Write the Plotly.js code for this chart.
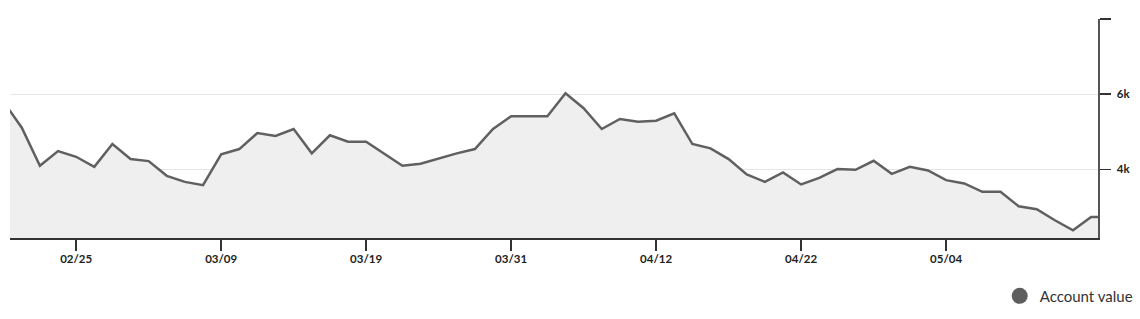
<!DOCTYPE html>
<html>
<head>
<meta charset="utf-8">
<script src="https://cdn.plot.ly/plotly-3.0.1.min.js"></script>
<style>html,body{margin:0;padding:0;background:#fff;}#chart{width:1140px;height:319px;}</style>
</head>
<body>
<div id="chart"></div>
<script>
var dates = ["02/20","02/21","02/22","02/23","02/25","02/26","02/27","02/28","03/01","03/03",
  "03/05","03/07","03/09","03/10","03/11","03/12","03/13","03/14","03/16","03/17",
  "03/19","03/20","03/22","03/23","03/24","03/26","03/28","03/29","03/31","04/01",
  "04/02","04/04","04/05","04/07","04/09","04/10","04/12","04/13","04/14","04/15",
  "04/17","04/18","04/19","04/21","04/22","04/23","04/25","04/26","04/28","04/29",
  "04/30","05/02","05/04","05/05","05/06","05/07","05/09","05/10","05/11","05/12",
  "05/14","05/15"];
var accountValue = [5800,5109,4096,4488,4336,4069,4675,4275,4221,3829,
  3669,3581,4400,4541,4968,4888,5075,4427,4907,4736,
  4736,4416,4096,4149,4293,4427,4541,5075,5413,5413,
  5413,6027,5627,5075,5341,5269,5296,5493,4675,4560,
  4275,3867,3669,3920,3600,3776,4008,3989,4229,3883,
  4069,3973,3715,3627,3403,3403,3021,2941,2648,2381,
  2736,2736];
var tickDates = ["02/25","03/09","03/19","03/31","04/12","04/22","05/04"];
var yTickVals = [4000,6000,8000];
var yTickText = ["4k","6k",""];
var seriesName = "Account value";

var traces = [
  {
    type: "scatter", mode: "lines", x: dates, y: accountValue,
    line: {color: "#606060", width: 2.5},
    fill: "tozeroy", fillcolor: "#efefef",
    showlegend: false, hoverinfo: "x+y"
  },
  {
    type: "scatter", mode: "markers", x: [dates[0]], y: [null],
    name: seriesName,
    marker: {color: "#5e5e5e", size: 16, symbol: "circle"},
    showlegend: true
  }
];

var layout = {
  width: 1140, height: 319,
  margin: {l: 10, r: 42, t: 19, b: 81, pad: 0},
  paper_bgcolor: "#fff", plot_bgcolor: "#fff",
  font: {family: "Lato, sans-serif", color: "#222"},
  xaxis: {
    type: "category", range: [0.35, 60.38],
    tickmode: "array", tickvals: tickDates, ticktext: tickDates,
    showgrid: false, zeroline: false,
    showline: true, linecolor: "#333", linewidth: 1.5,
    ticks: "outside", ticklen: 11, tickwidth: 1.5, tickcolor: "#333",
    ticklabelstandoff: -1,
    tickfont: {family: "Lato, sans-serif", size: 11.5, color: "#222", weight: "bold"}
  },
  yaxis: {
    side: "right", range: [2176, 8000],
    tickmode: "array", tickvals: yTickVals, ticktext: yTickText,
    showgrid: true, gridcolor: "#e6e6e6", gridwidth: 1,
    zeroline: false,
    showline: true, linecolor: "#555", linewidth: 1.5,
    ticks: "outside", ticklen: 11, tickwidth: 1.5, tickcolor: "#333",
    ticklabelstandoff: 4,
    tickfont: {family: "Lato, sans-serif", size: 11.5, color: "#222", weight: "bold"}
  },
  showlegend: true,
  legend: {
    orientation: "h", xref: "container", yref: "container",
    x: 0.998, xanchor: "right", y: 0.072, yanchor: "middle",
    font: {family: "Lato, sans-serif", size: 15, color: "#333"},
    itemwidth: 30, bgcolor: "rgba(0,0,0,0)"
  }
};

Plotly.newPlot("chart", traces, layout, {displayModeBar: false, staticPlot: true});
</script>
</body>
</html>
